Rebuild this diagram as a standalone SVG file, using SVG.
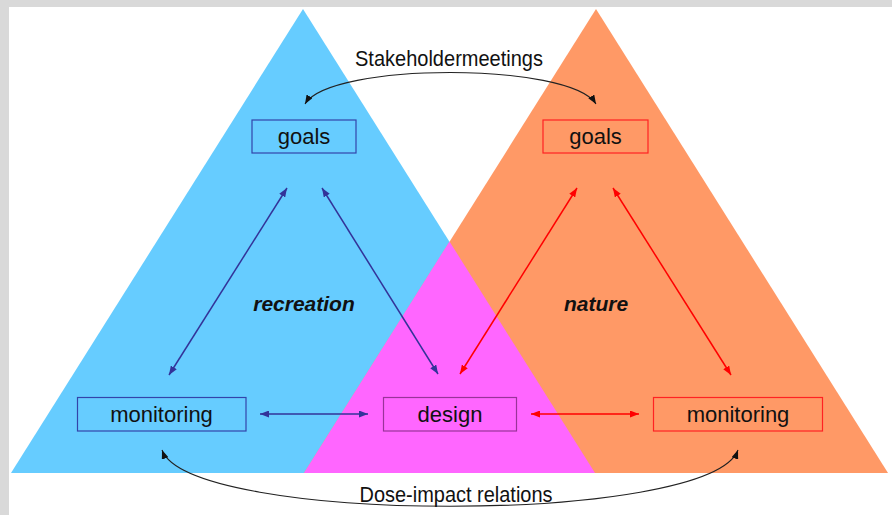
<svg xmlns="http://www.w3.org/2000/svg" width="892" height="515" viewBox="0 0 892 515">
<defs>
<style>
.box{stroke-width:1.2}
.lbl{font-family:"Liberation Sans",Arial,sans-serif;font-size:22px;fill:#111;text-anchor:middle}
.ttl{font-family:"Liberation Sans",Arial,sans-serif;font-size:21px;font-weight:bold;font-style:italic;fill:#111;text-anchor:middle}
.cap{font-family:"Liberation Sans Narrow","Liberation Sans",Arial,sans-serif;font-size:22px;fill:#111;text-anchor:middle}
.blue{stroke:#333399;stroke-width:1.5;fill:none;marker-start:url(#mb);marker-end:url(#mb)}
.red{stroke:#ff0000;stroke-width:1.5;fill:none;marker-start:url(#mr);marker-end:url(#mr)}
.blk{stroke:#222;stroke-width:1.1;fill:none;marker-start:url(#mk);marker-end:url(#mk)}
</style>
<marker id="mb" markerUnits="userSpaceOnUse" markerWidth="9" markerHeight="7" refX="9" refY="3.5" orient="auto-start-reverse"><path d="M0,0 L9,3.5 L0,7 z" fill="#333399"/></marker>
<marker id="mr" markerUnits="userSpaceOnUse" markerWidth="9" markerHeight="7" refX="9" refY="3.5" orient="auto-start-reverse"><path d="M0,0 L9,3.5 L0,7 z" fill="#ff0000"/></marker>
<marker id="mk" markerUnits="userSpaceOnUse" markerWidth="9" markerHeight="7" refX="9" refY="3.5" orient="auto-start-reverse"><path d="M0,0 L9,3.5 L0,7 z" fill="#111"/></marker>
</defs>
<rect x="0" y="0" width="892" height="515" fill="#d9d9d9"/>
<rect x="9" y="7" width="883" height="508" fill="#ffffff"/>
<g id="triangles">
<polygon points="303,9 595,473 11,473" fill="#66ccff"/>
<polygon points="596,9 888,473 304,473" fill="#ff9966"/>
<polygon points="449.5,241.5 595,473 304,473" fill="#ff66ff"/>
</g>
<g id="labels">
<text class="ttl" x="304" y="311">recreation</text>
<text class="ttl" x="596" y="311">nature</text>
</g>
<g id="connectors">
<line class="blue" x1="169" y1="375" x2="287" y2="188"/>
<line class="blue" x1="322" y1="188" x2="438" y2="374"/>
<line class="blue" x1="260" y1="414" x2="368" y2="414"/>
<line class="red" x1="577" y1="188" x2="460" y2="374"/>
<line class="red" x1="613" y1="188" x2="731" y2="375"/>
<line class="red" x1="531" y1="414" x2="639" y2="414"/>
<path class="blk" d="M305,104 C330,62 570,62 596,104"/>
<path class="blk" d="M162,450 C190,525 710,525 738,450"/>
<text class="cap" x="449" y="66" textLength="188" lengthAdjust="spacingAndGlyphs">Stakeholdermeetings</text>
<text class="cap" x="456" y="502" textLength="193" lengthAdjust="spacingAndGlyphs">Dose-impact relations</text>
</g>
<g id="goals-left">
<rect class="box" x="252" y="120" width="104" height="33" fill="none" stroke="#3344aa"/>
<text class="lbl" x="304" y="144">goals</text>
</g>
<g id="goals-right">
<rect class="box" x="543" y="120" width="105" height="33" fill="none" stroke="#ff2222"/>
<text class="lbl" x="595.5" y="144">goals</text>
</g>
<g id="monitoring-left">
<rect class="box" x="77.5" y="397.5" width="168.5" height="33.5" fill="none" stroke="#3344aa"/>
<text class="lbl" x="161.5" y="422">monitoring</text>
</g>
<g id="design">
<rect class="box" x="383.5" y="397.5" width="133" height="33.5" fill="none" stroke="#993399"/>
<text class="lbl" x="450" y="422">design</text>
</g>
<g id="monitoring-right">
<rect class="box" x="653.5" y="397.5" width="169" height="33.5" fill="none" stroke="#ff2222"/>
<text class="lbl" x="738" y="422">monitoring</text>
</g>
</svg>
